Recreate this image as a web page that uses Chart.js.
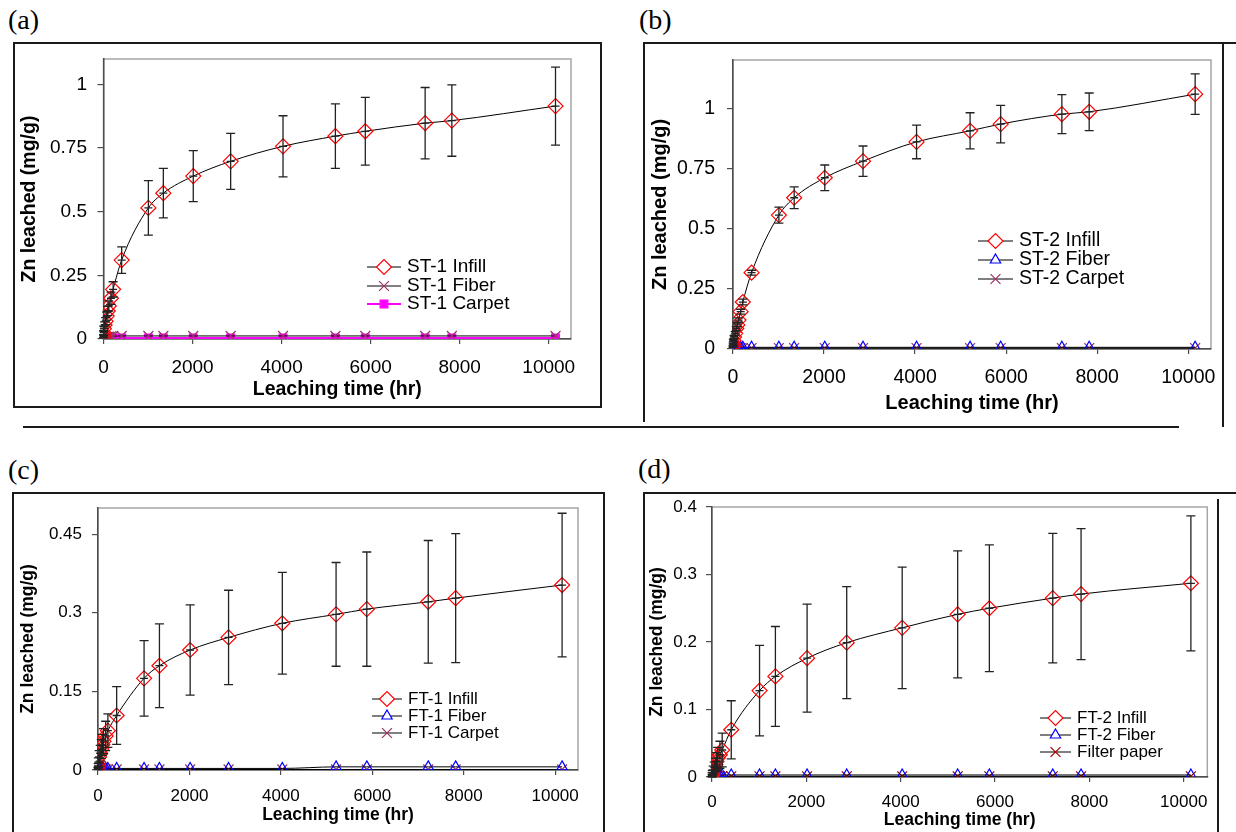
<!DOCTYPE html>
<html>
<head>
<meta charset="utf-8">
<script src="https://cdn.jsdelivr.net/npm/chart.js@4.4.1/dist/chart.umd.min.js"></script>
<style>
  body { margin: 0; background: #fff; width: 1236px; height: 832px; position: relative; overflow: hidden; }
  .lbl { position: absolute; font-family: 'Liberation Serif', 'Times New Roman', serif; font-size: 28px; line-height: 28px; color: #000; }
  .ln { position: absolute; background: #1a1a1a; }
  canvas { position: absolute; }
</style>
</head>
<body>
<div class="lbl" style="left:8px;top:6px">(a)</div>
<div class="lbl" style="left:639px;top:6px">(b)</div>
<div class="lbl" style="left:8px;top:456px">(c)</div>
<div class="lbl" style="left:638px;top:455px">(d)</div>

<!-- panel frames -->
<div class="ln" style="left:13px;top:42px;width:589px;height:1.5px"></div>
<div class="ln" style="left:13px;top:42px;width:1.5px;height:366px"></div>
<div class="ln" style="left:600px;top:42px;width:1.5px;height:366px"></div>
<div class="ln" style="left:13px;top:406px;width:589px;height:1.5px"></div>

<div class="ln" style="left:643px;top:42px;width:593px;height:1.5px"></div>
<div class="ln" style="left:643px;top:42px;width:1.5px;height:380px"></div>
<div class="ln" style="left:1222px;top:42px;width:1.5px;height:385px"></div>

<div class="ln" style="left:23px;top:426px;width:1156px;height:2px"></div>

<div class="ln" style="left:12px;top:492px;width:593px;height:1.5px"></div>
<div class="ln" style="left:12px;top:492px;width:1.5px;height:340px"></div>
<div class="ln" style="left:603px;top:492px;width:1.5px;height:340px"></div>

<div class="ln" style="left:643px;top:492px;width:593px;height:1.5px"></div>
<div class="ln" style="left:643px;top:492px;width:1.5px;height:340px"></div>
<div class="ln" style="left:1217px;top:499px;width:1.5px;height:333px"></div>

<canvas id="ca"></canvas>
<canvas id="cb"></canvas>
<canvas id="cc"></canvas>
<canvas id="cd"></canvas>

<script>
// sampling times (hr), shared by every series
const hours = [1, 4, 8, 24, 48, 72, 96, 120, 168, 216, 408, 1008, 1344, 2016, 2856, 4032, 5208, 5880, 7224, 7824, 10152];
const timeTicks = [0, 2000, 4000, 6000, 8000, 10000];

// (a) ST-1
const st1Ticks     = [0, 0.25, 0.5, 0.75, 1];
const st1Infill    = [0.010, 0.025, 0.040, 0.055, 0.070, 0.090, 0.110, 0.130, 0.160, 0.195, 0.310, 0.515, 0.573, 0.640, 0.698, 0.757, 0.797, 0.816, 0.848, 0.858, 0.915];
const st1InfillErr = [0.005, 0.008, 0.010, 0.012, 0.014, 0.016, 0.018, 0.020, 0.024, 0.030, 0.052, 0.107, 0.097, 0.100, 0.110, 0.120, 0.127, 0.133, 0.140, 0.140, 0.153];
const st1Fiber     = [0.001, 0.002, 0.003, 0.005, 0.006, 0.007, 0.008, 0.009, 0.010, 0.011, 0.012, 0.012, 0.012, 0.012, 0.012, 0.012, 0.012, 0.012, 0.012, 0.012, 0.012];
const st1Carpet    = [0.001, 0.002, 0.002, 0.003, 0.003, 0.003, 0.004, 0.004, 0.004, 0.004, 0.004, 0.004, 0.004, 0.004, 0.004, 0.004, 0.004, 0.004, 0.004, 0.004, 0.004];

// (b) ST-2
const st2Ticks     = [0, 0.25, 0.5, 0.75, 1];
const st2Infill    = [0.010, 0.020, 0.035, 0.050, 0.065, 0.085, 0.100, 0.120, 0.155, 0.195, 0.317, 0.556, 0.628, 0.711, 0.780, 0.860, 0.906, 0.934, 0.975, 0.985, 1.058];
const st2InfillErr = [0.003, 0.004, 0.005, 0.006, 0.007, 0.008, 0.008, 0.009, 0.010, 0.012, 0.010, 0.033, 0.045, 0.053, 0.063, 0.070, 0.075, 0.078, 0.081, 0.078, 0.084];
const st2Fiber     = [0.001, 0.002, 0.003, 0.004, 0.005, 0.005, 0.006, 0.006, 0.007, 0.007, 0.007, 0.007, 0.007, 0.007, 0.007, 0.007, 0.007, 0.007, 0.007, 0.007, 0.007];
const st2Carpet    = [0.001, 0.001, 0.002, 0.002, 0.003, 0.003, 0.003, 0.004, 0.004, 0.004, 0.004, 0.004, 0.004, 0.004, 0.004, 0.004, 0.004, 0.004, 0.004, 0.004, 0.004];

// (c) FT-1
const ft1Ticks     = [0, 0.15, 0.3, 0.45];
const ft1Infill    = [0.003, 0.008, 0.015, 0.025, 0.032, 0.040, 0.048, 0.055, 0.065, 0.075, 0.104, 0.175, 0.199, 0.229, 0.253, 0.280, 0.297, 0.307, 0.321, 0.328, 0.353];
const ft1InfillErr = [0.002, 0.004, 0.008, 0.012, 0.015, 0.018, 0.020, 0.024, 0.028, 0.032, 0.055, 0.072, 0.080, 0.086, 0.090, 0.097, 0.099, 0.109, 0.117, 0.123, 0.137];
const ft1Fiber     = [0.001, 0.002, 0.002, 0.003, 0.003, 0.003, 0.003, 0.003, 0.003, 0.003, 0.003, 0.003, 0.003, 0.003, 0.003, 0.003, 0.006, 0.006, 0.006, 0.006, 0.006];
const ft1Carpet    = [0.000, 0.001, 0.001, 0.001, 0.001, 0.001, 0.001, 0.001, 0.001, 0.001, 0.001, 0.001, 0.001, 0.001, 0.001, 0.001, 0.001, 0.001, 0.001, 0.001, 0.001];

// (d) FT-2
const ft2Ticks     = [0, 0.1, 0.2, 0.3, 0.4];
const ft2Infill    = [0.002, 0.004, 0.006, 0.010, 0.014, 0.018, 0.023, 0.028, 0.033, 0.040, 0.070, 0.128, 0.149, 0.176, 0.199, 0.221, 0.241, 0.250, 0.265, 0.271, 0.287];
const ft2InfillErr = [0.002, 0.003, 0.004, 0.006, 0.008, 0.010, 0.013, 0.016, 0.020, 0.025, 0.043, 0.067, 0.074, 0.080, 0.083, 0.090, 0.094, 0.094, 0.096, 0.097, 0.100];
const ft2Fiber     = [0.001, 0.002, 0.002, 0.003, 0.003, 0.003, 0.003, 0.003, 0.003, 0.003, 0.003, 0.003, 0.003, 0.003, 0.003, 0.003, 0.003, 0.003, 0.003, 0.003, 0.003];
const filterPaper  = [0.000, 0.001, 0.001, 0.001, 0.001, 0.001, 0.001, 0.001, 0.001, 0.001, 0.001, 0.001, 0.001, 0.001, 0.001, 0.001, 0.001, 0.001, 0.001, 0.001, 0.001];

const FONT = '"Liberation Sans", Arial, sans-serif';
Chart.defaults.font.family = FONT;
Chart.defaults.color = '#000';

const diamond  = { pointStyle: 'rectRot', pointRadius: 7.5, pointBorderColor: '#ff0000', pointBackgroundColor: 'rgba(0,0,0,0)' };
const triangle = { pointStyle: 'triangle', pointRadius: 6, pointBorderColor: '#0000ff', pointBackgroundColor: 'rgba(0,0,0,0)' };
const square   = { pointStyle: 'rect', pointRadius: 5.5, pointBorderColor: '#ff00ff', pointBackgroundColor: '#ff00ff', borderColor: '#ff00ff', borderWidth: 2 };
function xmark(color) {
    return { pointStyle: 'crossRot', pointRadius: 7, pointBorderColor: color, pointBackgroundColor: color };
}

function series(label, ys, style, errs) {
    var ds = {
        label: label,
        data: hours.map(function (h, i) { return { x: h, y: ys[i] }; }),
        borderColor: '#000',
        borderWidth: 1,
        pointBorderWidth: 1.2,
        cubicInterpolationMode: 'monotone',
        fill: false
    };
    if (errs) ds.errors = errs;
    return Object.assign(ds, style);
}

function marker(ctx, ds, x, y) {
    var r = ds.pointRadius;
    ctx.lineWidth = ds.pointBorderWidth;
    ctx.strokeStyle = ds.pointBorderColor;
    ctx.fillStyle = ds.pointStyle == 'rect' ? ds.pointBackgroundColor : '#fff';
    ctx.beginPath();
    if (ds.pointStyle == 'rectRot') {
        ctx.moveTo(x - r, y); ctx.lineTo(x, y - r); ctx.lineTo(x + r, y); ctx.lineTo(x, y + r); ctx.closePath();
        ctx.fill(); ctx.stroke();
    } else if (ds.pointStyle == 'triangle') {
        ctx.moveTo(x, y - r); ctx.lineTo(x + r * 0.866, y + r / 2); ctx.lineTo(x - r * 0.866, y + r / 2); ctx.closePath();
        ctx.fill(); ctx.stroke();
    } else if (ds.pointStyle == 'rect') {
        var s = r * Math.SQRT1_2;
        ctx.rect(x - s, y - s, 2 * s, 2 * s);
        ctx.fill(); ctx.stroke();
    } else {
        var d = r * Math.SQRT1_2;
        ctx.moveTo(x - d, y - d); ctx.lineTo(x + d, y + d);
        ctx.moveTo(x - d, y + d); ctx.lineTo(x + d, y - d);
        ctx.stroke();
    }
}

// grey plot-area frame, the axes are drawn over its left and bottom sides
const plotFrame = {
    id: 'plotFrame',
    beforeDraw: function (chart) {
        var a = chart.chartArea, ctx = chart.ctx;
        ctx.save();
        ctx.strokeStyle = '#a6a6a6';
        ctx.lineWidth = 1.5;
        ctx.strokeRect(a.left, a.top, a.right - a.left, a.bottom - a.top);
        ctx.restore();
    }
};

const errorBars = {
    id: 'errorBars',
    afterDatasetsDraw: function (chart) {
        var ctx = chart.ctx, ys = chart.scales.y;
        chart.data.datasets.forEach(function (ds, i) {
            if (!ds.errors) return;
            var meta = chart.getDatasetMeta(i);
            ctx.save();
            ctx.strokeStyle = '#222';
            ctx.lineWidth = 1.3;
            meta.data.forEach(function (pt, j) {
                var v = ds.data[j].y, e = ds.errors[j];
                var top = ys.getPixelForValue(v + e), bot = ys.getPixelForValue(v - e);
                ctx.beginPath();
                ctx.moveTo(pt.x, top); ctx.lineTo(pt.x, bot);
                ctx.moveTo(pt.x - 4.5, top); ctx.lineTo(pt.x + 4.5, top);
                ctx.moveTo(pt.x - 4.5, bot); ctx.lineTo(pt.x + 4.5, bot);
                ctx.moveTo(pt.x - 4, pt.y); ctx.lineTo(pt.x + 4, pt.y);
                ctx.stroke();
            });
            ctx.restore();
        });
    }
};

const panelLegend = {
    id: 'panelLegend',
    afterDraw: function (chart, args, opts) {
        var ctx = chart.ctx;
        chart.data.datasets.forEach(function (ds, i) {
            var y = opts.rows[i] - opts.oy;
            ctx.save();
            ctx.strokeStyle = ds.borderColor;
            ctx.lineWidth = ds.borderWidth;
            ctx.beginPath();
            ctx.moveTo(opts.x1 - opts.ox, y);
            ctx.lineTo(opts.x2 - opts.ox, y);
            ctx.stroke();
            marker(ctx, ds, (opts.x1 + opts.x2) / 2 - opts.ox, y);
            ctx.fillStyle = '#000';
            ctx.font = opts.size + 'px ' + FONT;
            ctx.textBaseline = 'middle';
            ctx.fillText(ds.label, opts.tx - opts.ox, y);
            ctx.restore();
        });
    }
};

function makePanel(p) {
    var cv = document.getElementById(p.id);
    var cx = p.canvas[0], cy = p.canvas[1], cw = p.canvas[2], ch = p.canvas[3];
    cv.width = cw; cv.height = ch;
    cv.style.left = cx + 'px'; cv.style.top = cy + 'px';
    var axisGrid = { drawOnChartArea: false, color: '#4d4d4d', lineWidth: 1.2, tickLength: 6 };
    var axisBorder = { color: '#4d4d4d', width: 1.5 };

    new Chart(cv, {
        type: 'line',
        data: { datasets: p.datasets },
        plugins: [plotFrame, errorBars, panelLegend],
        options: {
            responsive: false,
            animation: false,
            devicePixelRatio: 1,
            layout: { padding: { top: p.area[1] - cy, right: cx + cw - p.area[2], left: 0, bottom: 0 } },
            plugins: {
                legend: { display: false },
                tooltip: { enabled: false },
                panelLegend: Object.assign({ ox: cx, oy: cy }, p.legend)
            },
            scales: {
                x: {
                    type: 'linear', min: 0, max: 10500,
                    grid: Object.assign({}, axisGrid, { tickLength: 5 }),
                    border: axisBorder,
                    afterBuildTicks: function (s) { s.ticks = timeTicks.map(function (v) { return { value: v }; }); },
                    ticks: { padding: p.xTickPad, font: { size: p.tick },
                             callback: function (v) { return String(v); } },
                    title: { display: true, text: 'Leaching time (hr)', font: { size: p.title, weight: 'bold' },
                             padding: { top: 0, bottom: p.xTitlePad } },
                    afterFit: function (s) { s.height = cy + ch - p.area[3]; s.paddingLeft = 0; s.paddingRight = 0; }
                },
                y: {
                    type: 'linear', min: 0, max: p.yMax,
                    grid: axisGrid,
                    border: axisBorder,
                    afterBuildTicks: function (s) { s.ticks = p.yTicks.map(function (v) { return { value: v }; }); },
                    ticks: { padding: p.yTickPad, font: { size: p.tick },
                             callback: function (v) { return String(v); } },
                    title: { display: true, text: 'Zn leached (mg/g)', font: { size: p.title, weight: 'bold' },
                             padding: { top: p.yTitlePad, bottom: 0 } },
                    afterFit: function (s) { s.width = p.area[0] - cx; s.paddingTop = 0; s.paddingBottom = 0; }
                }
            }
        }
    });
}

makePanel({
    id: 'ca', canvas: [16, 45, 583, 360], area: [103.5, 59, 571, 339],
    tick: 19, title: 19.5, yMax: 1.1, yTicks: st1Ticks,
    yTitlePad: 2.3, yTickPad: 10.5, xTickPad: 12.6, xTitlePad: 3.3,
    legend: { x1: 367, x2: 401, tx: 407, rows: [267, 286, 304], size: 19 },
    datasets: [
        series('ST-1 Infill', st1Infill, diamond, st1InfillErr),
        series('ST-1 Fiber', st1Fiber, xmark('#993366')),
        series('ST-1 Carpet', st1Carpet, square)
    ]
});

makePanel({
    id: 'cb', canvas: [646, 45, 575, 378], area: [733, 60, 1211, 349],
    tick: 19.5, title: 20, yMax: 1.2, yTicks: st2Ticks,
    yTitlePad: 2, yTickPad: 12, xTickPad: 12.3, xTitlePad: 8,
    legend: { x1: 978, x2: 1013, tx: 1019, rows: [241, 260, 279], size: 19.5 },
    datasets: [
        series('ST-2 Infill', st2Infill, diamond, st2InfillErr),
        series('ST-2 Fiber', st2Fiber, triangle),
        series('ST-2 Carpet', st2Carpet, xmark('#993366'))
    ]
});

makePanel({
    id: 'cc', canvas: [15, 495, 587, 337], area: [98, 508, 578, 770],
    tick: 17, title: 17.5, yMax: 0.5, yTicks: ft1Ticks,
    yTitlePad: 2.5, yTickPad: 10, xTickPad: 10.8, xTitlePad: 6.5,
    legend: { x1: 372, x2: 402, tx: 408, rows: [699, 716, 733], size: 17 },
    datasets: [
        series('FT-1 Infill', ft1Infill, diamond, ft1InfillErr),
        series('FT-1 Fiber', ft1Fiber, triangle),
        series('FT-1 Carpet', ft1Carpet, xmark('#993366'))
    ]
});

makePanel({
    id: 'cd', canvas: [645, 495, 571, 337], area: [712, 507, 1208, 777],
    tick: 17, title: 17.5, yMax: 0.4, yTicks: ft2Ticks,
    yTitlePad: 1.5, yTickPad: 9, xTickPad: 9.8, xTitlePad: 1.5,
    legend: { x1: 1040, x2: 1071, tx: 1077, rows: [718, 735, 752], size: 17 },
    datasets: [
        series('FT-2 Infill', ft2Infill, diamond, ft2InfillErr),
        series('FT-2 Fiber', ft2Fiber, triangle),
        series('Filter paper', filterPaper, xmark('#990000'))
    ]
});
</script>
</body>
</html>
